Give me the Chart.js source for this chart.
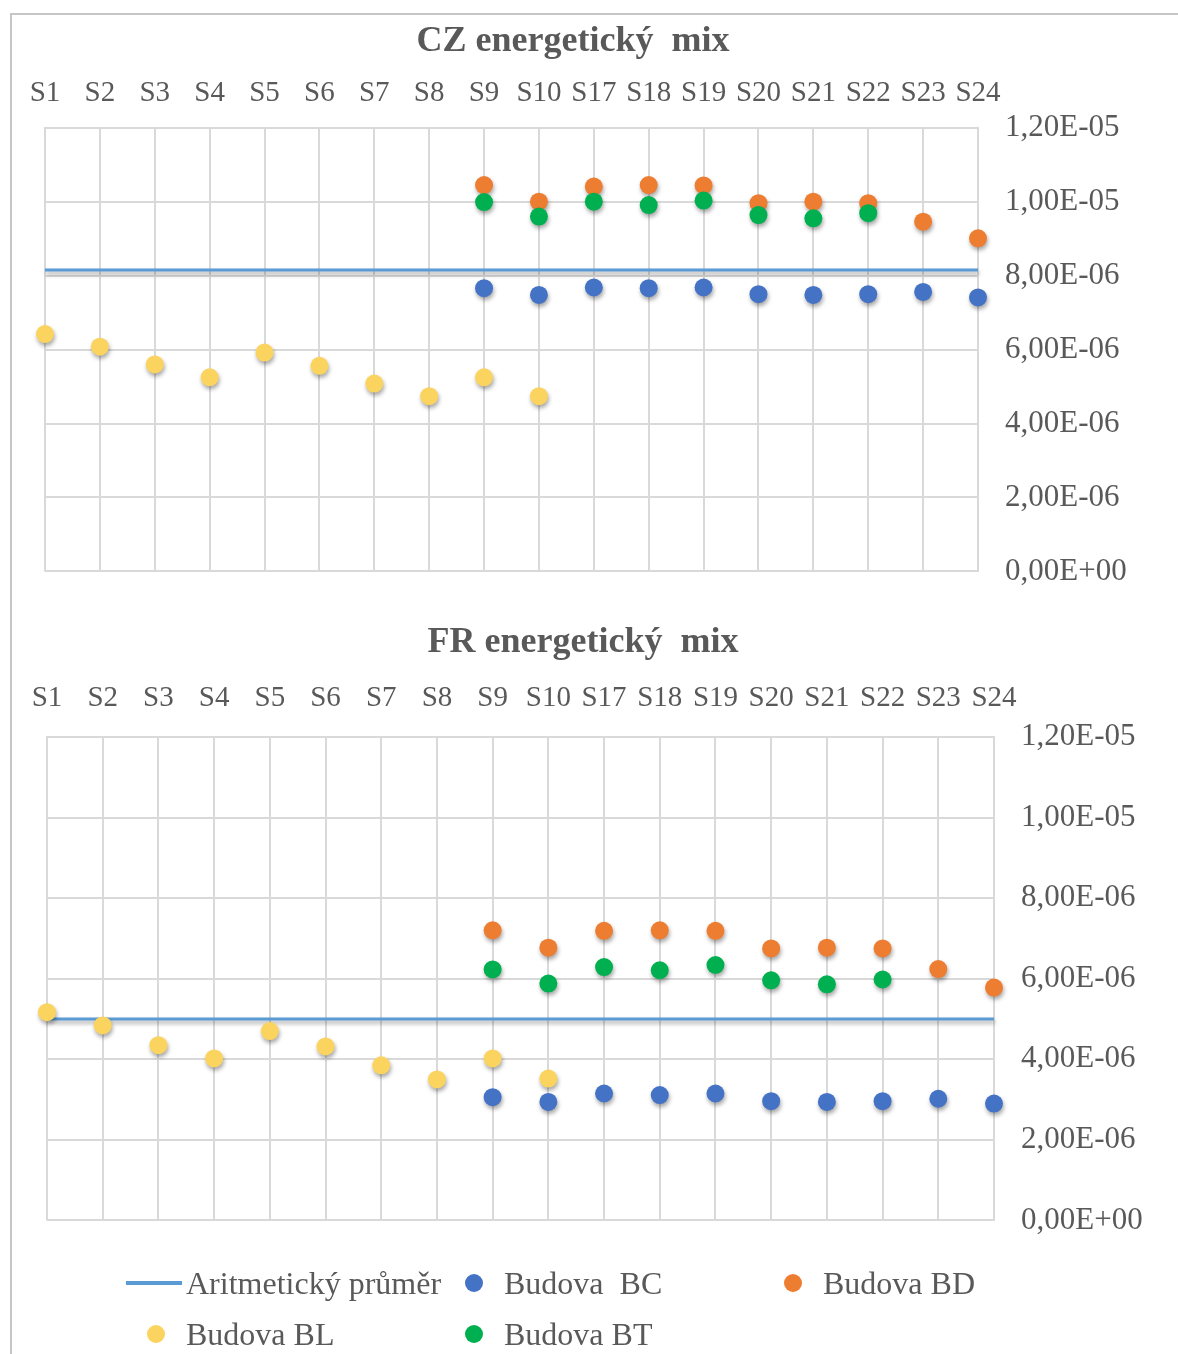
<!DOCTYPE html>
<html>
<head>
<meta charset="utf-8">
<script src="https://cdn.jsdelivr.net/npm/chart.js@4.4.1/dist/chart.umd.min.js"></script>
<style>
  html, body { margin: 0; padding: 0; background: #fff; }
  body { width: 1178px; height: 1354px; position: relative; overflow: hidden; font-family: "Liberation Serif", "DejaVu Serif", serif; }
  #frame { position: absolute; left: 10px; top: 13px; width: 1200px; height: 1400px; border-top: 2px solid #c6c6c6; border-left: 2px solid #c6c6c6; }
  .box { position: absolute; }
  #legend { position: absolute; left: 126px; top: 1262px; display: grid; grid-template-columns: 318px 319px 318px; row-gap: 9px; color: #595959; font-size: 32px; }
  .item { display: flex; align-items: center; height: 42px; white-space: pre; }
  .mark { width: 60px; height: 42px; display: flex; align-items: center; justify-content: center; }
  .dot { width: 18px; height: 18px; border-radius: 50%; }
  .line { width: 56px; height: 4px; margin-right: 4px; }
</style>
</head>
<body>
<div id="frame"></div>
<div class="box" style="left:11px; top:20px; width:1167px; height:597px;"><canvas id="cz"></canvas></div>
<div class="box" style="left:10px; top:621px; width:1168px; height:645px;"><canvas id="fr"></canvas></div>
<div id="legend"></div>

<script>
// categories
const LABELS = ['S1', 'S2', 'S3', 'S4', 'S5', 'S6', 'S7', 'S8', 'S9', 'S10',
                'S17', 'S18', 'S19', 'S20', 'S21', 'S22', 'S23', 'S24'];
const Y_TICKS = [0, 2e-6, 4e-6, 6e-6, 8e-6, 1e-5, 1.2e-5];

// CZ energetický mix
const CZ_AVG = 8.15e-6;
const CZ_BC = [null, null, null, null, null, null, null, null,
               7.66e-6, 7.48e-6, 7.68e-6, 7.66e-6, 7.68e-6, 7.50e-6, 7.48e-6, 7.50e-6, 7.56e-6, 7.41e-6];
const CZ_BD = [null, null, null, null, null, null, null, null,
               10.45e-6, 10.0e-6, 10.41e-6, 10.45e-6, 10.44e-6, 9.96e-6, 10.0e-6, 9.96e-6, 9.46e-6, 9.01e-6];
const CZ_BL = [6.42e-6, 6.08e-6, 5.60e-6, 5.25e-6, 5.92e-6, 5.56e-6, 5.08e-6, 4.74e-6, 5.25e-6, 4.74e-6,
               null, null, null, null, null, null, null, null];
const CZ_BT = [null, null, null, null, null, null, null, null,
               9.99e-6, 9.60e-6, 10.0e-6, 9.91e-6, 10.03e-6, 9.64e-6, 9.55e-6, 9.69e-6, null, null];

// FR energetický mix
const FR_AVG = 5.0e-6;
const FR_BC = [null, null, null, null, null, null, null, null,
               3.06e-6, 2.94e-6, 3.15e-6, 3.11e-6, 3.15e-6, 2.96e-6, 2.94e-6, 2.96e-6, 3.02e-6, 2.90e-6];
const FR_BD = [null, null, null, null, null, null, null, null,
               7.20e-6, 6.77e-6, 7.19e-6, 7.20e-6, 7.19e-6, 6.75e-6, 6.77e-6, 6.75e-6, 6.24e-6, 5.78e-6];
const FR_BL = [5.17e-6, 4.84e-6, 4.35e-6, 4.02e-6, 4.70e-6, 4.32e-6, 3.85e-6, 3.50e-6, 4.02e-6, 3.52e-6,
               null, null, null, null, null, null, null, null];
const FR_BT = [null, null, null, null, null, null, null, null,
               6.23e-6, 5.88e-6, 6.29e-6, 6.21e-6, 6.34e-6, 5.96e-6, 5.86e-6, 5.98e-6, null, null];

const SERIES = [
  { name: 'Aritmetický průměr', color: '#5B9BD5', line: true },
  { name: 'Budova  BC', color: '#4472C4' },
  { name: 'Budova BD', color: '#ED7D31' },
  { name: 'Budova BL', color: '#FBD35F' },
  { name: 'Budova BT', color: '#00B050' },
];

const FONT = '"Liberation Serif", "DejaVu Serif", serif';
const TEXT = '#595959';
const GRID = '#d9d9d9';

function sci(v) {
  const [m, e] = Number(v).toExponential(2).split('e');
  const n = parseInt(e, 10);
  return m.replace('.', ',') + 'E' + (n < 0 ? '-' : '+') + String(Math.abs(n)).padStart(2, '0');
}

// soft drop shadow like the office chart
const shadow = {
  id: 'shadow',
  beforeDatasetDraw(chart) {
    const c = chart.ctx;
    c.save();
    c.shadowColor = 'rgba(0,0,0,0.35)';
    c.shadowBlur = 4;
    c.shadowOffsetX = 1;
    c.shadowOffsetY = 3;
  },
  afterDatasetDraw(chart) { chart.ctx.restore(); }
};

// title sits over the whole chart incl. the axis labels, not the canvas box
const titleShift = {
  id: 'titleShift',
  afterLayout(chart, args, opts) {
    const t = chart.titleBlock;
    if (!t) return;
    t.left += opts.dx;
    t.right += opts.dx;
  }
};

function makeChart(id, title, avg, bc, bd, bl, bt, opt) {
  const values = [null, bc, bd, bl, bt];
  const datasets = SERIES.map((s, i) => {
    if (s.line) {
      return {
        label: s.name,
        data: [{ x: LABELS[0], y: avg }, { x: LABELS[LABELS.length - 1], y: avg }],
        borderColor: s.color, borderWidth: 3, pointRadius: 0, showLine: true,
        order: 5, clip: false
      };
    }
    return {
      label: s.name, data: values[i], showLine: false,
      pointRadius: 9, pointHoverRadius: 9,
      backgroundColor: s.color, borderColor: s.color, borderWidth: 0,
      order: 5 - i, clip: false
    };
  });

  return new Chart(document.getElementById(id), {
    type: 'line',
    data: { labels: LABELS, datasets },
    options: {
      responsive: true,
      maintainAspectRatio: false,
      animation: false,
      layout: { padding: { left: opt.padLeft, right: 0, top: 0, bottom: 0 } },
      plugins: {
        legend: { display: false },
        tooltip: { enabled: false },
        titleShift: { dx: opt.titleDx },
        title: {
          display: true, text: title, color: TEXT,
          font: { family: FONT, size: 36, weight: 'bold', lineHeight: 0.8 },
          padding: { top: opt.titleTop, bottom: opt.titleGap }
        }
      },
      scales: {
        x: {
          position: 'top',
          offset: false,
          grid: { color: GRID, lineWidth: 2, drawTicks: false },
          border: { color: GRID, width: 2 },
          ticks: { color: TEXT, font: { family: FONT, size: 29 }, padding: opt.xPad, maxRotation: 0, autoSkip: false }
        },
        y: {
          position: 'right',
          min: 0, max: 1.2e-5,
          afterBuildTicks: (scale) => { scale.ticks = Y_TICKS.map(v => ({ value: v })); },
          afterFit: (scale) => { scale.width = opt.yWidth; },
          grid: { color: GRID, lineWidth: 2, drawTicks: false },
          border: { color: GRID, width: 2 },
          ticks: { color: TEXT, font: { family: FONT, size: 31 }, padding: 27, callback: (v) => sci(v) }
        }
      }
    },
    plugins: [shadow, titleShift]
  });
}

makeChart('cz', 'CZ energetický  mix', CZ_AVG, CZ_BC, CZ_BD, CZ_BL, CZ_BT,
  { padLeft: 34, titleTop: 7, titleGap: 4, xPad: 16.6, yWidth: 200, titleDx: -38.5 });
makeChart('fr', 'FR energetický  mix', FR_AVG, FR_BC, FR_BD, FR_BL, FR_BT,
  { padLeft: 37, titleTop: 7.6, titleGap: 1.6, xPad: 21.6, yWidth: 184, titleDx: -29.5 });

// shared legend below both charts
const legend = document.getElementById('legend');
SERIES.forEach(s => {
  const item = document.createElement('div');
  item.className = 'item';
  const mark = document.createElement('div');
  mark.className = 'mark';
  const sw = document.createElement('div');
  sw.className = s.line ? 'line' : 'dot';
  sw.style.background = s.color;
  mark.appendChild(sw);
  const label = document.createElement('span');
  label.textContent = s.name;
  item.appendChild(mark);
  item.appendChild(label);
  legend.appendChild(item);
});
</script>
</body>
</html>
